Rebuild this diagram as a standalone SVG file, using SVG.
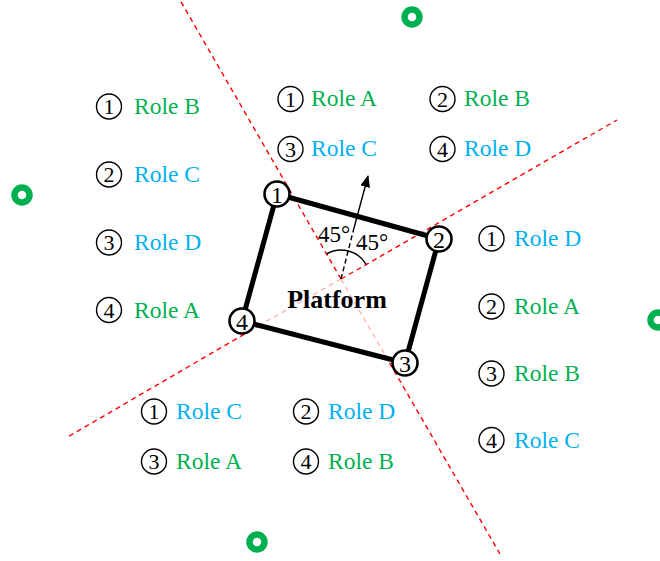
<svg xmlns="http://www.w3.org/2000/svg" width="660" height="561" viewBox="0 0 660 561">
<style>
.t{font-family:"Liberation Serif","Times New Roman",serif;font-size:23.5px}
.g{fill:#00b050}
.b{fill:#00b0f0}
.n{font-family:"Liberation Serif","Times New Roman",serif;font-size:22px;fill:#000;text-anchor:middle}
.nc{font-family:"Liberation Serif","Times New Roman",serif;font-size:24px;fill:#000;text-anchor:middle}
.c{fill:#fff;stroke:#000;stroke-width:1.4}
.cc{fill:#fff;stroke:#000;stroke-width:2.6}
.ring{fill:none;stroke:#00b050;stroke-width:6.5}
.red{stroke:#ff0000;stroke-width:1.4;stroke-dasharray:5,4;fill:none}
.pink{stroke:#ffb3b3;stroke-width:1.4;stroke-dasharray:5,4;fill:none}
.deg{font-family:"Liberation Serif","Times New Roman",serif;font-size:23px;fill:#000}
</style>
<defs>
<marker id="ah" viewBox="0 0 12 10" refX="11" refY="5" markerWidth="12" markerHeight="10" markerUnits="userSpaceOnUse" orient="auto">
<path d="M0,0 L12,5 L0,10 z" fill="#000"/>
</marker>
</defs>
<rect width="660" height="561" fill="#fff"/>

<g id="axes">
<line class="red" x1="341" y1="279" x2="180" y2="0"/>
<line class="red" x1="341" y1="279" x2="617" y2="120"/>
<line class="pink" x1="341" y1="279" x2="385" y2="355"/>
<line class="red" x1="385" y1="355" x2="500" y2="554"/>
<line class="pink" x1="341" y1="279" x2="260" y2="325"/>
<line class="red" x1="260" y1="325" x2="66" y2="438"/>
</g>

<g id="platform">
<polygon points="277,194 439,239 405,363 242,321" fill="none" stroke="#000" stroke-width="5" stroke-linejoin="round"/>
<text x="337" y="308" text-anchor="middle" style="font-family:'Liberation Serif','Times New Roman',serif;font-size:26px;font-weight:bold">Platform</text>
</g>

<g id="connectors">
<line x1="341" y1="279" x2="354" y2="228" stroke="#000" stroke-width="1.4" stroke-dasharray="5,3"/>
<line x1="354" y1="228" x2="368" y2="176" stroke="#000" stroke-width="1.4" marker-end="url(#ah)"/>
<path d="M326.5,253.9 A29,29 0 0 1 366.1,264.5" fill="none" stroke="#000" stroke-width="1.4"/>
</g>

<g id="angles">
<text class="deg" x="318" y="242">45°</text>
<text class="deg" x="356" y="250">45°</text>
</g>

<g id="corner1"><circle class="cc" cx="277" cy="194" r="12.5"/><text class="nc" x="277" y="202.5">1</text></g>
<g id="corner2"><circle class="cc" cx="439" cy="239" r="12.5"/><text class="nc" x="439" y="247.5">2</text></g>
<g id="corner3"><circle class="cc" cx="405" cy="363" r="12.5"/><text class="nc" x="405" y="371.5">3</text></g>
<g id="corner4"><circle class="cc" cx="242" cy="321" r="12.5"/><text class="nc" x="242" y="329.5">4</text></g>

<g id="ring-top"><circle class="ring" cx="412" cy="17" r="7.5"/></g>
<g id="ring-left"><circle class="ring" cx="22" cy="195" r="7.5"/></g>
<g id="ring-bottom"><circle class="ring" cx="257" cy="542" r="7.5"/></g>
<g id="ring-right"><circle class="ring" cx="658" cy="320" r="7.5"/></g>

<g id="group-left">
<circle class="c" cx="109" cy="106.5" r="12.5"/><text class="n" x="109" y="114">1</text><text class="t g" x="134" y="114">Role B</text>
<circle class="c" cx="109" cy="174.5" r="12.5"/><text class="n" x="109" y="182">2</text><text class="t b" x="134" y="182">Role C</text>
<circle class="c" cx="109" cy="242.5" r="12.5"/><text class="n" x="109" y="250">3</text><text class="t b" x="134" y="250">Role D</text>
<circle class="c" cx="109" cy="310" r="12.5"/><text class="n" x="109" y="317.5">4</text><text class="t g" x="134" y="318">Role A</text>
</g>

<g id="group-top">
<circle class="c" cx="290.5" cy="99" r="12.5"/><text class="n" x="290.5" y="106.5">1</text><text class="t g" x="311" y="106">Role A</text>
<circle class="c" cx="442.5" cy="99" r="12.5"/><text class="n" x="442.5" y="106.5">2</text><text class="t g" x="464" y="106">Role B</text>
<circle class="c" cx="290.5" cy="149" r="12.5"/><text class="n" x="290.5" y="156.5">3</text><text class="t b" x="311" y="156">Role C</text>
<circle class="c" cx="442.5" cy="149" r="12.5"/><text class="n" x="442.5" y="156.5">4</text><text class="t b" x="464" y="156">Role D</text>
</g>

<g id="group-right">
<circle class="c" cx="491.5" cy="238.5" r="12.5"/><text class="n" x="491.5" y="246">1</text><text class="t b" x="514" y="246">Role D</text>
<circle class="c" cx="491.5" cy="306.5" r="12.5"/><text class="n" x="491.5" y="314">2</text><text class="t g" x="514" y="314">Role A</text>
<circle class="c" cx="491.5" cy="373.5" r="12.5"/><text class="n" x="491.5" y="381">3</text><text class="t g" x="514" y="381">Role B</text>
<circle class="c" cx="491.5" cy="440" r="12.5"/><text class="n" x="491.5" y="447.5">4</text><text class="t b" x="514" y="448">Role C</text>
</g>

<g id="group-bottom">
<circle class="c" cx="154" cy="411.5" r="12.5"/><text class="n" x="154" y="419">1</text><text class="t b" x="176" y="419">Role C</text>
<circle class="c" cx="306" cy="411.5" r="12.5"/><text class="n" x="306" y="419">2</text><text class="t b" x="328" y="419">Role D</text>
<circle class="c" cx="154" cy="461.5" r="12.5"/><text class="n" x="154" y="469">3</text><text class="t g" x="176" y="469">Role A</text>
<circle class="c" cx="306" cy="461.5" r="12.5"/><text class="n" x="306" y="469">4</text><text class="t g" x="328" y="469">Role B</text>
</g>
</svg>
